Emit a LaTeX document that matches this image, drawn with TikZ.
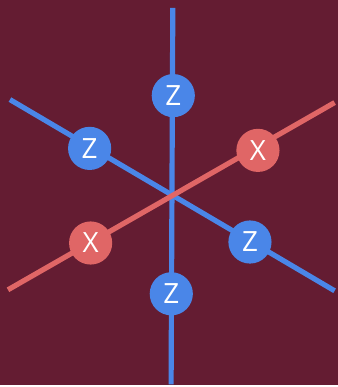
\documentclass[tikz,border=0pt]{standalone}
\usepackage{fontspec}
\setmainfont{Open Sans}
\definecolor{bgmaroon}{HTML}{641C32}
\definecolor{zblue}{HTML}{4A86E8}
\definecolor{xred}{HTML}{E06666}

\begin{document}
\begin{tikzpicture}[x=0.75pt, y=-0.75pt,
    zline/.style={zblue, line width=3.9pt},
    xline/.style={xred, line width=3.9pt},
    zqubit/.style={circle, fill=zblue, minimum size=32.5pt, inner sep=0pt, text=white, font=\fontsize{21}{21}\selectfont},
    xqubit/.style={circle, fill=xred, minimum size=32.5pt, inner sep=0pt, text=white, font=\fontsize{21}{21}\selectfont}]
  \fill[bgmaroon] (0,0) rectangle (339,387);
  \coordinate (t) at (173.5, 8);
  \coordinate (b) at (171.8, 386);
  \coordinate (zl) at (10, 100);
  \coordinate (zr) at (336, 292);
  \coordinate (xl) at (8, 291);
  \coordinate (xr) at (336, 103);
  \draw[zline] (t) -- (b);
  \draw[zline] (zl) -- (zr);
  \draw[xline] (xl) -- (xr);
  \node[zqubit] (z1) at (174, 96) {Z};
  \node[zqubit] (z2) at (90, 149) {Z};
  \node[xqubit] (x1) at (259, 151) {X};
  \node[xqubit] (x2) at (91, 244) {X};
  \node[zqubit] (z3) at (251, 243) {Z};
  \node[zqubit] (z4) at (172, 295) {Z};
\end{tikzpicture}
\end{document}
